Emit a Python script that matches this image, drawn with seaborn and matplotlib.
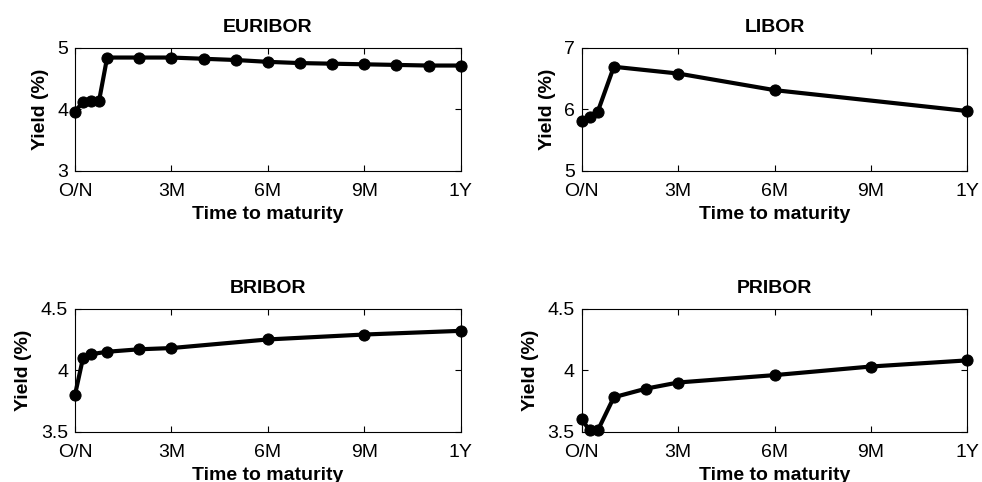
import matplotlib
matplotlib.use("Agg")
import matplotlib.pyplot as plt
import numpy as np
import pandas as pd
import seaborn as sns

# Maturities in months: O/N, 1W, 2W, 3W, then monthly tenors
euribor_t = [0, 0.25, 0.5, 0.75, 1, 2, 3, 4, 5, 6, 7, 8, 9, 10, 11, 12]
euribor_y = [3.96, 4.12, 4.13, 4.14, 4.84, 4.84, 4.84, 4.82, 4.80, 4.77, 4.75, 4.74, 4.73, 4.72, 4.71, 4.71]

libor_t = [0, 0.25, 0.5, 1, 3, 6, 12]
libor_y = [5.81, 5.88, 5.96, 6.69, 6.58, 6.31, 5.97]

bribor_t = [0, 0.25, 0.5, 1, 2, 3, 6, 9, 12]
bribor_y = [3.80, 4.10, 4.13, 4.15, 4.17, 4.18, 4.25, 4.29, 4.32]

pribor_t = [0, 0.25, 0.5, 1, 2, 3, 6, 9, 12]
pribor_y = [3.60, 3.51, 3.51, 3.78, 3.85, 3.90, 3.96, 4.03, 4.08]

tick_pos = [0, 3, 6, 9, 12]
tick_labels = ["O/N", "3M", "6M", "9M", "1Y"]

panels = [
    ("EURIBOR", euribor_t, euribor_y, (3, 5), [3, 4, 5], ["3", "4", "5"]),
    ("LIBOR", libor_t, libor_y, (5, 7), [5, 6, 7], ["5", "6", "7"]),
    ("BRIBOR", bribor_t, bribor_y, (3.5, 4.5), [3.5, 4, 4.5], ["3.5", "4", "4.5"]),
    ("PRIBOR", pribor_t, pribor_y, (3.5, 4.5), [3.5, 4, 4.5], ["3.5", "4", "4.5"]),
]

sns.set_style("ticks")
plt.rcParams["font.family"] = ["Liberation Sans", "DejaVu Sans"]
plt.rcParams["text.color"] = "black"
plt.rcParams["axes.labelcolor"] = "black"

fig = plt.figure(figsize=(9.82, 4.82), dpi=100)
W = 385.7 / 982
H = 123.0 / 482
lefts = [75 / 982, 581.7 / 982]
bottoms = [1 - 170.7 / 482, 1 - 431.7 / 482]

for i, (name, t, y, ylim, yt, ytl) in enumerate(panels):
    ax = fig.add_axes([lefts[i % 2], bottoms[i // 2], W, H])
    df = pd.DataFrame({"maturity": t, "yield": y})
    sns.lineplot(data=df, x="maturity", y="yield", ax=ax, color="black",
                 linewidth=3, marker="o", markersize=8, markeredgecolor="black",
                 markerfacecolor="black", clip_on=False, zorder=5)
    ax.set_xlim(0, 12)
    ax.set_ylim(*ylim)
    ax.set_xticks(tick_pos)
    ax.set_xticklabels(tick_labels)
    ax.set_yticks(yt)
    ax.set_yticklabels(ytl)
    ax.tick_params(direction="in", length=4, width=0.8, top=True, right=True,
                   labelsize=14, colors="black")
    ax.tick_params(axis="x", pad=9)
    ax.tick_params(axis="y", pad=5)
    for s in ax.spines.values():
        s.set_visible(True)
        s.set_linewidth(0.8)
        s.set_color("black")
    ax.set_title(name, fontsize=14, fontweight="bold", pad=11, color="black")
    ax.set_xlabel("Time to maturity", fontsize=14, fontweight="bold", labelpad=4.5)
    ax.set_ylabel("Yield (%)", fontsize=14, fontweight="bold", labelpad=6)

fig.savefig("out.png", dpi=100, facecolor="white")
